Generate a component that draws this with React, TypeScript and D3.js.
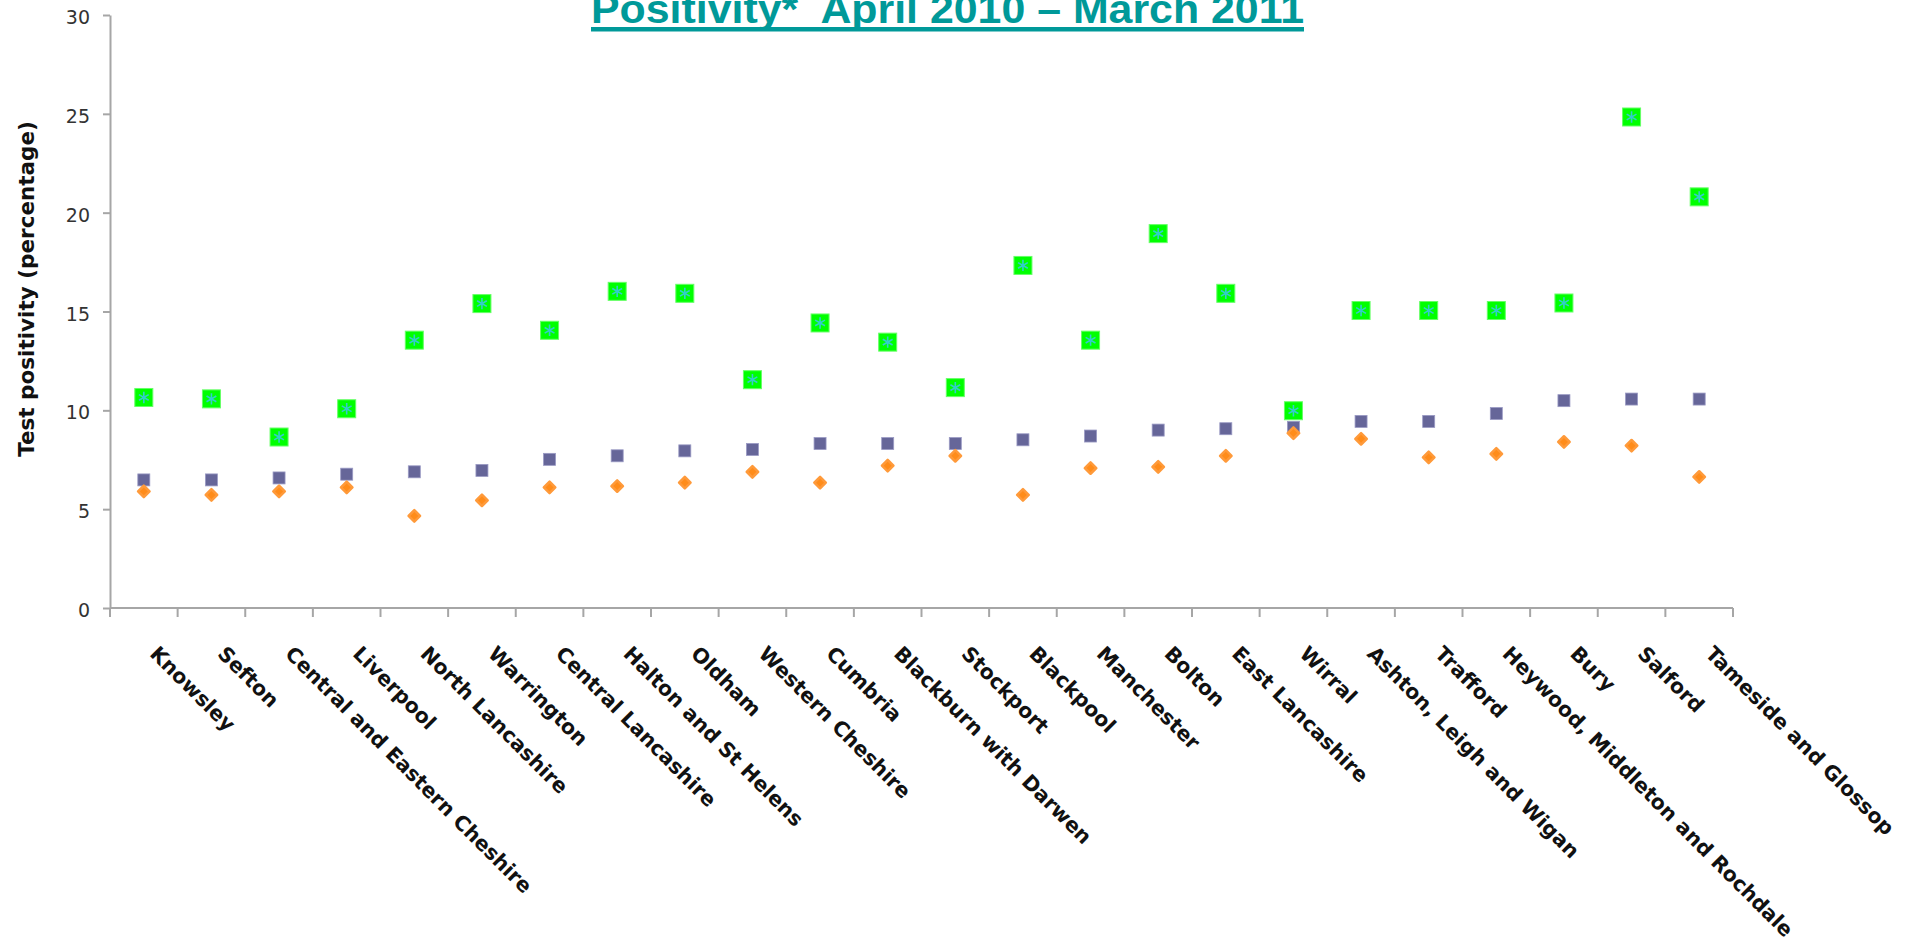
import React, { useEffect, useRef } from 'react'
import * as d3 from 'd3'

const areas = [
  'Knowsley', 'Sefton', 'Central and Eastern Cheshire', 'Liverpool', 'North Lancashire',
  'Warrington', 'Central Lancashire', 'Halton and St Helens', 'Oldham', 'Western Cheshire',
  'Cumbria', 'Blackburn with Darwen', 'Stockport', 'Blackpool', 'Manchester', 'Bolton',
  'East Lancashire', 'Wirral', 'Ashton, Leigh and Wigan', 'Trafford',
  'Heywood, Middleton and Rochdale', 'Bury', 'Salford', 'Tameside and Glossop'
]

// green squares (top series)
const greenValues = [
  10.65, 10.58, 8.65, 10.08, 13.55, 15.4, 14.05, 16.02, 15.92, 11.55, 14.42, 13.45,
  11.15, 17.33, 13.55, 18.94, 15.92, 9.98, 15.05, 15.05, 15.05, 15.43, 24.84, 20.8
]
// purple squares
const purpleValues = [
  6.48, 6.48, 6.58, 6.77, 6.89, 6.96, 7.52, 7.7, 7.95, 8.02, 8.32, 8.32,
  8.32, 8.51, 8.7, 9.0, 9.07, 9.14, 9.44, 9.44, 9.84, 10.49, 10.57, 10.57
]
// orange diamonds
const orangeValues = [
  5.9, 5.72, 5.9, 6.1, 4.66, 5.45, 6.1, 6.17, 6.34, 6.89, 6.34, 7.2,
  7.7, 5.72, 7.08, 7.14, 7.7, 8.85, 8.56, 7.62, 7.8, 8.4, 8.21, 6.63
]

const yTicks = [0, 5, 10, 15, 20, 25, 30]
const chartTitle = 'Positivity*  April 2010 \u2013 March 2011'
const yTitle = 'Test positivity (percentage)'

const App = () => {
  const svgRef = useRef(null)

  useEffect(() => {
    const svg = d3.select(svgRef.current)
    svg.selectAll('*').remove()

    const x = d3.scaleBand().domain(areas).range([110, 1733])
    const y = d3.scaleLinear().domain([0, 30]).range([608, 15])
    const cx = (i) => x(areas[i]) + x.bandwidth() / 2
    const axisColor = '#a6a6a6'

    // title (cut at the top edge, as in the slide)
    svg.append('text')
      .attr('x', 591)
      .attr('y', 23)
      .attr('textLength', 713)
      .attr('lengthAdjust', 'spacingAndGlyphs')
      .style('white-space', 'pre')
      .style('font-family', '"Liberation Sans", Arial, sans-serif')
      .style('font-weight', 'bold')
      .style('font-size', '40px')
      .style('fill', '#009999')
      .text(chartTitle)
    svg.append('rect')
      .attr('x', 591).attr('y', 27).attr('width', 713).attr('height', 4.5)
      .attr('fill', '#009999')

    // y axis
    const yAxis = d3.axisLeft(y).tickValues(yTicks).tickSizeInner(7).tickSizeOuter(0).tickPadding(13)
    const gy = svg.append('g').attr('transform', 'translate(110,0)').call(yAxis)
    gy.selectAll('path, line').attr('stroke', axisColor).attr('stroke-width', 2)
    gy.selectAll('text')
      .attr('dy', '0.45em')
      .style('font-family', '"DejaVu Sans", sans-serif')
      .style('font-size', '19px')
      .style('fill', '#333')

    svg.append('text')
      .attr('transform', 'translate(34,289) rotate(-90)')
      .attr('text-anchor', 'middle')
      .style('font-family', '"DejaVu Sans", sans-serif')
      .style('font-weight', 'bold')
      .style('font-size', '21.5px')
      .style('fill', '#111')
      .text(yTitle)

    // x axis: line plus ticks on the band edges
    const edges = areas.map(a => x(a)).concat([x.range()[1]])
    svg.append('line')
      .attr('x1', x.range()[0]).attr('x2', x.range()[1])
      .attr('y1', y(0)).attr('y2', y(0))
      .attr('stroke', axisColor).attr('stroke-width', 2)
    svg.append('g').selectAll('line').data(edges).enter().append('line')
      .attr('x1', d => d).attr('x2', d => d)
      .attr('y1', y(0)).attr('y2', y(0) + 9)
      .attr('stroke', axisColor).attr('stroke-width', 2)

    svg.append('g').selectAll('text').data(areas).enter().append('text')
      .attr('transform', (d, i) => `translate(${cx(i) + 5},655) rotate(45)`)
      .attr('text-anchor', 'start')
      .style('font-family', '"DejaVu Sans", sans-serif')
      .style('font-weight', 'bold')
      .style('font-size', '20.5px')
      .style('fill', '#111')
      .text(d => d)

    // green squares with a cyan asterisk
    const gGreen = svg.append('g')
    gGreen.selectAll('rect').data(greenValues).enter().append('rect')
      .attr('x', (d, i) => cx(i) - 9)
      .attr('y', d => y(d) - 9)
      .attr('width', 18).attr('height', 18)
      .attr('fill', '#00ff00')
      .attr('stroke', '#66ff66').attr('stroke-width', 1)
    const star = d3.symbol(d3.symbolAsterisk, 90)
    gGreen.selectAll('path').data(greenValues).enter().append('path')
      .attr('d', star)
      .attr('transform', (d, i) => `translate(${cx(i)},${y(d)})`)
      .attr('fill', 'none')
      .attr('stroke', '#33cccc').attr('stroke-width', 1.6)

    // purple squares
    svg.append('g').selectAll('rect').data(purpleValues).enter().append('rect')
      .attr('x', (d, i) => cx(i) - 6)
      .attr('y', d => y(d) - 6)
      .attr('width', 12).attr('height', 12)
      .attr('fill', '#666699')
      .attr('stroke', '#9a9ac4').attr('stroke-width', 0.8)

    // orange diamonds
    const diamond = d3.symbol(d3.symbolSquare, 66)
    svg.append('g').selectAll('path').data(orangeValues).enter().append('path')
      .attr('d', diamond)
      .attr('transform', (d, i) => `translate(${cx(i)},${y(d)}) rotate(45)`)
      .attr('fill', '#ff8c1a')
      .attr('stroke', '#ff9a3a').attr('stroke-width', 2.5)
      .attr('stroke-linejoin', 'round')
  }, [])

  return (
    <svg
      ref={svgRef}
      width={1915}
      height={950}
      style={{ position: 'absolute', left: 0, top: 0, background: '#fff' }}
    />
  )
}

export default App
